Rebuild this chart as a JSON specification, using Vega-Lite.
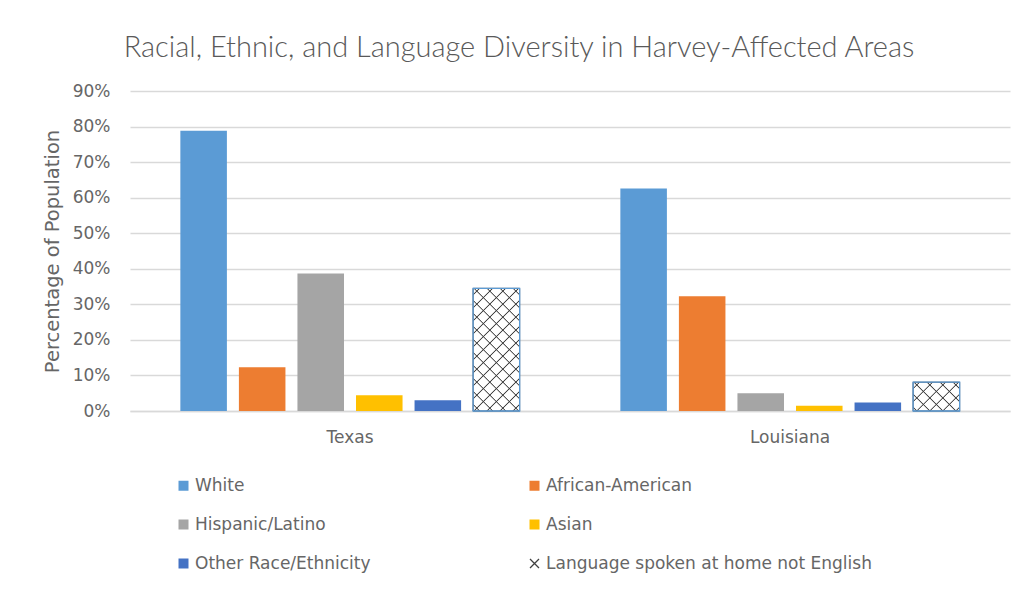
{
  "$schema": "https://vega.github.io/schema/vega-lite/v6.json",
  "width": 880,
  "height": 320,
  "autosize": {"type": "none"},
  "padding": {"left": 130, "top": 91, "right": 18, "bottom": 182},
  "background": "white",
  "config": {"view": {"stroke": null}},
  "title": {
    "text": "Racial, Ethnic, and Language Diversity in Harvey-Affected Areas",
    "font": "Lato",
    "fontSize": 29,
    "fontWeight": 300,
    "color": "#595959",
    "baseline": "alphabetic",
    "dx": -51,
    "offset": -4
  },
  "data": {
    "values": [
      {"state": "Texas", "race": "White", "pct": 0.788},
      {"state": "Texas", "race": "African-American", "pct": 0.123},
      {"state": "Texas", "race": "Hispanic/Latino", "pct": 0.387},
      {"state": "Texas", "race": "Asian", "pct": 0.044},
      {"state": "Texas", "race": "Other Race/Ethnicity", "pct": 0.030},
      {"state": "Texas", "race": "Language spoken at home not English", "pct": 0.345},
      {"state": "Louisiana", "race": "White", "pct": 0.626},
      {"state": "Louisiana", "race": "African-American", "pct": 0.323},
      {"state": "Louisiana", "race": "Hispanic/Latino", "pct": 0.050},
      {"state": "Louisiana", "race": "Asian", "pct": 0.015},
      {"state": "Louisiana", "race": "Other Race/Ethnicity", "pct": 0.024},
      {"state": "Louisiana", "race": "Language spoken at home not English", "pct": 0.081}
    ]
  },
  "encoding": {
    "x": {
      "field": "state",
      "type": "nominal",
      "sort": ["Texas", "Louisiana"],
      "scale": {"paddingInner": 0, "paddingOuter": 0},
      "axis": {
        "title": null,
        "labelAngle": 0,
        "labelFont": "DejaVu Sans",
        "labelFontSize": 17,
        "labelColor": "#666666",
        "labelPadding": 18,
        "ticks": false,
        "domain": true,
        "domainColor": "#d9d9d9",
        "domainWidth": 1.3,
        "grid": false
      }
    },
    "xOffset": {
      "field": "race",
      "type": "nominal",
      "sort": ["White", "African-American", "Hispanic/Latino", "Asian", "Other Race/Ethnicity", "Language spoken at home not English"],
      "scale": {"paddingInner": 0.205, "paddingOuter": 0.86}
    },
    "y": {
      "field": "pct",
      "type": "quantitative",
      "scale": {"domain": [0, 0.9]},
      "axis": {
        "title": "Percentage of Population",
        "titleFont": "DejaVu Sans",
        "titleFontSize": 19.5,
        "titleFontWeight": "normal",
        "titleColor": "#666666",
        "titlePadding": 10,
        "values": [0, 0.1, 0.2, 0.3, 0.4, 0.5, 0.6, 0.7, 0.8, 0.9],
        "format": ".0%",
        "labelFont": "DejaVu Sans",
        "labelFontSize": 17,
        "labelColor": "#666666",
        "labelPadding": 20,
        "ticks": false,
        "domain": false,
        "gridColor": "#d9d9d9",
        "gridWidth": 1.3
      }
    }
  },
  "layer": [
    {
      "mark": {"type": "bar"},
      "encoding": {
        "color": {
          "field": "race",
          "type": "nominal",
          "scale": {
            "domain": ["White", "African-American", "Hispanic/Latino", "Asian", "Other Race/Ethnicity", "Language spoken at home not English"],
            "range": ["#5B9BD5", "#ED7D31", "#A5A5A5", "#FFC000", "#4472C4", "#FFFFFF"]
          },
          "legend": {
            "orient": "none",
            "direction": "horizontal",
            "legendX": 45,
            "legendY": 386,
            "columns": 2,
            "title": null,
            "symbolType": "square",
            "symbolSize": 100,
            "symbolStrokeWidth": 1.3,
            "labelFont": "DejaVu Sans",
            "labelFontSize": 17,
            "labelColor": "#666666",
            "labelOffset": 3,
            "labelLimit": 400,
            "rowPadding": 21,
            "columnPadding": 155,
            "encode": {
              "symbols": {
                "update": {
                  "shape": {"signal": "datum.value === 'Language spoken at home not English' ? 'M-0.9,-0.9L0.9,0.9M-0.9,0.9L0.9,-0.9' : 'square'"}
                }
              }
            }
          }
        },
        "stroke": {
          "field": "race",
          "type": "nominal",
          "scale": {
            "domain": ["White", "African-American", "Hispanic/Latino", "Asian", "Other Race/Ethnicity", "Language spoken at home not English"],
            "range": ["transparent", "transparent", "transparent", "transparent", "transparent", "#404040"]
          }
        }
      }
    },
    {
      "transform": [{"filter": "datum.race === 'Language spoken at home not English' && datum.state === 'Texas'"}],
      "mark": {
        "type": "bar",
        "fill": {
          "gradient": "linear", "x1": 0, "y1": 0, "x2": 0.4571, "y2": 1.2058,
          "stops": [
            {"offset": 0.03133, "color": "rgba(60,60,60,0)"}, {"offset": 0.03842, "color": "#3c3c3c"}, {"offset": 0.04552, "color": "rgba(60,60,60,0)"},
            {"offset": 0.10818, "color": "rgba(60,60,60,0)"}, {"offset": 0.11527, "color": "#3c3c3c"}, {"offset": 0.12236, "color": "rgba(60,60,60,0)"},
            {"offset": 0.18502, "color": "rgba(60,60,60,0)"}, {"offset": 0.19212, "color": "#3c3c3c"}, {"offset": 0.19921, "color": "rgba(60,60,60,0)"},
            {"offset": 0.26187, "color": "rgba(60,60,60,0)"}, {"offset": 0.26896, "color": "#3c3c3c"}, {"offset": 0.27605, "color": "rgba(60,60,60,0)"},
            {"offset": 0.33871, "color": "rgba(60,60,60,0)"}, {"offset": 0.34581, "color": "#3c3c3c"}, {"offset": 0.35290, "color": "rgba(60,60,60,0)"},
            {"offset": 0.41556, "color": "rgba(60,60,60,0)"}, {"offset": 0.42265, "color": "#3c3c3c"}, {"offset": 0.42975, "color": "rgba(60,60,60,0)"},
            {"offset": 0.49241, "color": "rgba(60,60,60,0)"}, {"offset": 0.49950, "color": "#3c3c3c"}, {"offset": 0.50659, "color": "rgba(60,60,60,0)"},
            {"offset": 0.56925, "color": "rgba(60,60,60,0)"}, {"offset": 0.57635, "color": "#3c3c3c"}, {"offset": 0.58344, "color": "rgba(60,60,60,0)"},
            {"offset": 0.64610, "color": "rgba(60,60,60,0)"}, {"offset": 0.65319, "color": "#3c3c3c"}, {"offset": 0.66028, "color": "rgba(60,60,60,0)"},
            {"offset": 0.72294, "color": "rgba(60,60,60,0)"}, {"offset": 0.73004, "color": "#3c3c3c"}, {"offset": 0.73713, "color": "rgba(60,60,60,0)"},
            {"offset": 0.79979, "color": "rgba(60,60,60,0)"}, {"offset": 0.80688, "color": "#3c3c3c"}, {"offset": 0.81398, "color": "rgba(60,60,60,0)"},
            {"offset": 0.87664, "color": "rgba(60,60,60,0)"}, {"offset": 0.88373, "color": "#3c3c3c"}, {"offset": 0.89082, "color": "rgba(60,60,60,0)"},
            {"offset": 0.95348, "color": "rgba(60,60,60,0)"}, {"offset": 0.96058, "color": "#3c3c3c"}, {"offset": 0.96767, "color": "rgba(60,60,60,0)"}
          ]
        }
      }
    },
    {
      "transform": [{"filter": "datum.race === 'Language spoken at home not English' && datum.state === 'Texas'"}],
      "mark": {
        "type": "bar",
        "fill": {
          "gradient": "linear", "x1": 1, "y1": 0, "x2": 0.5429, "y2": 1.2058,
          "stops": [
            {"offset": 0.03133, "color": "rgba(60,60,60,0)"}, {"offset": 0.03842, "color": "#3c3c3c"}, {"offset": 0.04552, "color": "rgba(60,60,60,0)"},
            {"offset": 0.10818, "color": "rgba(60,60,60,0)"}, {"offset": 0.11527, "color": "#3c3c3c"}, {"offset": 0.12236, "color": "rgba(60,60,60,0)"},
            {"offset": 0.18502, "color": "rgba(60,60,60,0)"}, {"offset": 0.19212, "color": "#3c3c3c"}, {"offset": 0.19921, "color": "rgba(60,60,60,0)"},
            {"offset": 0.26187, "color": "rgba(60,60,60,0)"}, {"offset": 0.26896, "color": "#3c3c3c"}, {"offset": 0.27605, "color": "rgba(60,60,60,0)"},
            {"offset": 0.33871, "color": "rgba(60,60,60,0)"}, {"offset": 0.34581, "color": "#3c3c3c"}, {"offset": 0.35290, "color": "rgba(60,60,60,0)"},
            {"offset": 0.41556, "color": "rgba(60,60,60,0)"}, {"offset": 0.42265, "color": "#3c3c3c"}, {"offset": 0.42975, "color": "rgba(60,60,60,0)"},
            {"offset": 0.49241, "color": "rgba(60,60,60,0)"}, {"offset": 0.49950, "color": "#3c3c3c"}, {"offset": 0.50659, "color": "rgba(60,60,60,0)"},
            {"offset": 0.56925, "color": "rgba(60,60,60,0)"}, {"offset": 0.57635, "color": "#3c3c3c"}, {"offset": 0.58344, "color": "rgba(60,60,60,0)"},
            {"offset": 0.64610, "color": "rgba(60,60,60,0)"}, {"offset": 0.65319, "color": "#3c3c3c"}, {"offset": 0.66028, "color": "rgba(60,60,60,0)"},
            {"offset": 0.72294, "color": "rgba(60,60,60,0)"}, {"offset": 0.73004, "color": "#3c3c3c"}, {"offset": 0.73713, "color": "rgba(60,60,60,0)"},
            {"offset": 0.79979, "color": "rgba(60,60,60,0)"}, {"offset": 0.80688, "color": "#3c3c3c"}, {"offset": 0.81398, "color": "rgba(60,60,60,0)"},
            {"offset": 0.87664, "color": "rgba(60,60,60,0)"}, {"offset": 0.88373, "color": "#3c3c3c"}, {"offset": 0.89082, "color": "rgba(60,60,60,0)"},
            {"offset": 0.95348, "color": "rgba(60,60,60,0)"}, {"offset": 0.96058, "color": "#3c3c3c"}, {"offset": 0.96767, "color": "rgba(60,60,60,0)"}
          ]
        }
      }
    },
    {
      "transform": [{"filter": "datum.race === 'Language spoken at home not English' && datum.state === 'Louisiana'"}],
      "mark": {
        "type": "bar",
        "fill": {
          "gradient": "linear", "x1": 0, "y1": 0, "x2": 1.1704, "y2": 0.7249,
          "stops": [
            {"offset": 0.07039, "color": "rgba(60,60,60,0)"}, {"offset": 0.08632, "color": "#3c3c3c"}, {"offset": 0.10226, "color": "rgba(60,60,60,0)"},
            {"offset": 0.24303, "color": "rgba(60,60,60,0)"}, {"offset": 0.25896, "color": "#3c3c3c"}, {"offset": 0.27490, "color": "rgba(60,60,60,0)"},
            {"offset": 0.41567, "color": "rgba(60,60,60,0)"}, {"offset": 0.43160, "color": "#3c3c3c"}, {"offset": 0.44754, "color": "rgba(60,60,60,0)"},
            {"offset": 0.58831, "color": "rgba(60,60,60,0)"}, {"offset": 0.60424, "color": "#3c3c3c"}, {"offset": 0.62018, "color": "rgba(60,60,60,0)"},
            {"offset": 0.76095, "color": "rgba(60,60,60,0)"}, {"offset": 0.77689, "color": "#3c3c3c"}, {"offset": 0.79282, "color": "rgba(60,60,60,0)"},
            {"offset": 0.93359, "color": "rgba(60,60,60,0)"}, {"offset": 0.94953, "color": "#3c3c3c"}, {"offset": 0.96546, "color": "rgba(60,60,60,0)"}
          ]
        }
      }
    },
    {
      "transform": [{"filter": "datum.race === 'Language spoken at home not English' && datum.state === 'Louisiana'"}],
      "mark": {
        "type": "bar",
        "fill": {
          "gradient": "linear", "x1": 1, "y1": 0, "x2": -0.1704, "y2": 0.7249,
          "stops": [
            {"offset": 0.07039, "color": "rgba(60,60,60,0)"}, {"offset": 0.08632, "color": "#3c3c3c"}, {"offset": 0.10226, "color": "rgba(60,60,60,0)"},
            {"offset": 0.24303, "color": "rgba(60,60,60,0)"}, {"offset": 0.25896, "color": "#3c3c3c"}, {"offset": 0.27490, "color": "rgba(60,60,60,0)"},
            {"offset": 0.41567, "color": "rgba(60,60,60,0)"}, {"offset": 0.43160, "color": "#3c3c3c"}, {"offset": 0.44754, "color": "rgba(60,60,60,0)"},
            {"offset": 0.58831, "color": "rgba(60,60,60,0)"}, {"offset": 0.60424, "color": "#3c3c3c"}, {"offset": 0.62018, "color": "rgba(60,60,60,0)"},
            {"offset": 0.76095, "color": "rgba(60,60,60,0)"}, {"offset": 0.77689, "color": "#3c3c3c"}, {"offset": 0.79282, "color": "rgba(60,60,60,0)"},
            {"offset": 0.93359, "color": "rgba(60,60,60,0)"}, {"offset": 0.94953, "color": "#3c3c3c"}, {"offset": 0.96546, "color": "rgba(60,60,60,0)"}
          ]
        }
      }
    },
    {
      "transform": [{"filter": "datum.race === 'Language spoken at home not English'"}],
      "mark": {"type": "bar", "fill": "transparent", "stroke": "#5B9BD5", "strokeWidth": 1.3}
    }
  ]
}
